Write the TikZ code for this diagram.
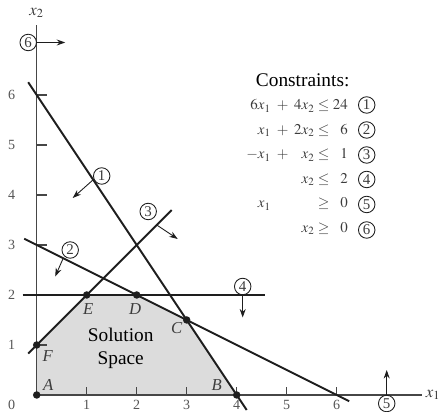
\documentclass[tikz,border=0pt]{standalone}
\usepackage{mathptmx}
\usepackage[no-math]{fontspec}
\setmainfont{Liberation Serif}
\usepackage{xcolor}
\definecolor{linedark}{RGB}{30, 30, 30}
\definecolor{axisgray}{RGB}{70, 70, 70}
\definecolor{tickgray}{RGB}{85, 85, 85}
\definecolor{consgray}{RGB}{60, 60, 60}
\definecolor{regionfill}{RGB}{220, 220, 220}
\usepackage{tikz}
\usetikzlibrary{arrows.meta,positioning}
\newcommand{\consfont}{\fontsize{8.5}{9}\selectfont\medmuskip=7mu\relax}

\begin{document}
\begin{tikzpicture}[
  axis/.style={line width=0.7pt, color=axisgray},
  cline/.style={line width=1.1pt, color=linedark},
  tag/.style={draw=linedark, circle, inner sep=0pt, minimum size=0.33cm, line width=0.5pt, font=\fontsize{8.5}{9}\selectfont, text=consgray},
  dir/.style={-{Stealth[length=1.7mm, width=1.2mm]}, line width=0.5pt, color=linedark},
  dot/.style={circle, fill=linedark, inner sep=0pt, minimum size=1.5mm},
  corner/.style={font=\fontsize{9.5}{10}\selectfont\itshape, text=consgray},
  tick/.style={font=\fontsize{8}{9}\selectfont, text=tickgray},
  cons/.style={anchor=base east, font=\consfont, text=consgray, inner sep=0pt}
]
\useasboundingbox (-0.734,-0.34) rectangle (8.046,7.9);

% solution space
\coordinate (A) at (0,0);
\coordinate (B) at (4,0);
\coordinate (C) at (3,1.5);
\coordinate (D) at (2,2);
\coordinate (E) at (1,2);
\coordinate (F) at (0,1);
\fill[regionfill] (A) -- (B) -- (C) -- (D) -- (E) -- (F) -- cycle;
\node[font=\fontsize{11}{13}\selectfont, align=center] (space) at (1.68,0.94) {Solution\\Space};

% axes
\draw[axis] (0,0) -- (7.7,0);
\draw[axis] (0,0) -- (0,7.4);
\node[corner] (x1lab) at (7.93,0) {$x_1$};
\node[corner] (x2lab) at (0,7.64) {$x_2$};
\node[tick] (o) at (-0.5,-0.2) {0};
\foreach \i in {1,...,6} {
  \draw[axis] (\i,0) -- (\i,0.16);
  \node[tick] (xt\i) at (\i,-0.2) {\i};
  \draw[axis] (0,\i) -- (0.2,\i);
  \node[tick] (yt\i) at (-0.5,\i) {\i};
}

% constraint lines
\draw[cline] (-0.17,6.255) -- (4.2,-0.3);
\draw[cline] (-0.25,3.125) -- (6.25,-0.125);
\draw[cline] (-0.17,0.83) -- (2.7,3.7);
\draw[cline] (-0.28,2) -- (4.57,2);

% corner points
\foreach \p in {A,B,C,D,E,F} \node[dot] (dot\p) at (\p) {};
\node[corner] (labA) at (0.23,0.2) {A};
\node[corner] (labB) at (3.6,0.2) {B};
\node[corner] (labC) at (2.8,1.34) {C};
\node[corner] (labD) at (1.97,1.72) {D};
\node[corner] (labE) at (1.03,1.72) {E};
\node[corner] (labF) at (0.22,0.78) {F};

% feasible directions
\coordinate (s1) at (1.13,4.305);
\coordinate (e1) at (0.72,3.94);
\coordinate (s2) at (0.53,2.735);
\coordinate (e2) at (0.37,2.37);
\coordinate (s3) at (2.4,3.4);
\coordinate (e3) at (2.82,3.12);
\coordinate (s4) at (4.12,2);
\coordinate (e4) at (4.12,1.55);
\coordinate (s5) at (7,0);
\coordinate (e5) at (7,0.5);
\coordinate (s6) at (0,7.05);
\coordinate (e6) at (0.57,7.05);
\node[tag] (g1) at (1.3,4.38) {1};
\node[tag] (g2) at (0.67,2.9) {2};
\node[tag] (g3) at (2.23,3.67) {3};
\node[tag] (g4) at (4.12,2.17) {4};
\node[tag] (g5) at (7,-0.17) {5};
\node[tag] (g6) at (-0.17,7.05) {6};
\foreach \k in {1,...,6} \draw[dir] (s\k) -- (e\k);

% constraint list
\node[font=\fontsize{11}{13}\selectfont] (title) at (5.32,6.3) {Constraints:};
\node[cons] (c1) at (6.23,5.70) {$6x_1 + 4x_2 \le 24$};
\node[cons] (c2) at (6.23,5.21) {$x_1 + 2x_2 \le \phantom{2}6$};
\node[cons] (c3) at (6.23,4.72) {$-x_1 + \phantom{2}x_2 \le \phantom{2}1$};
\node[cons] (c4) at (6.23,4.23) {$x_2 \le \phantom{2}2$};
\node[cons] (c5) at (6.23,3.74) {$x_1 \phantom{{}+ 2x_2} \ge \phantom{2}0$};
\node[cons] (c6) at (6.23,3.25) {$x_2 \ge \phantom{2}0$};
\node[tag] (t1) at (6.6,5.80) {1};
\node[tag] (t2) at (6.6,5.30) {2};
\node[tag] (t3) at (6.6,4.80) {3};
\node[tag] (t4) at (6.6,4.31) {4};
\node[tag] (t5) at (6.6,3.81) {5};
\node[tag] (t6) at (6.6,3.30) {6};
\end{tikzpicture}
\end{document}
